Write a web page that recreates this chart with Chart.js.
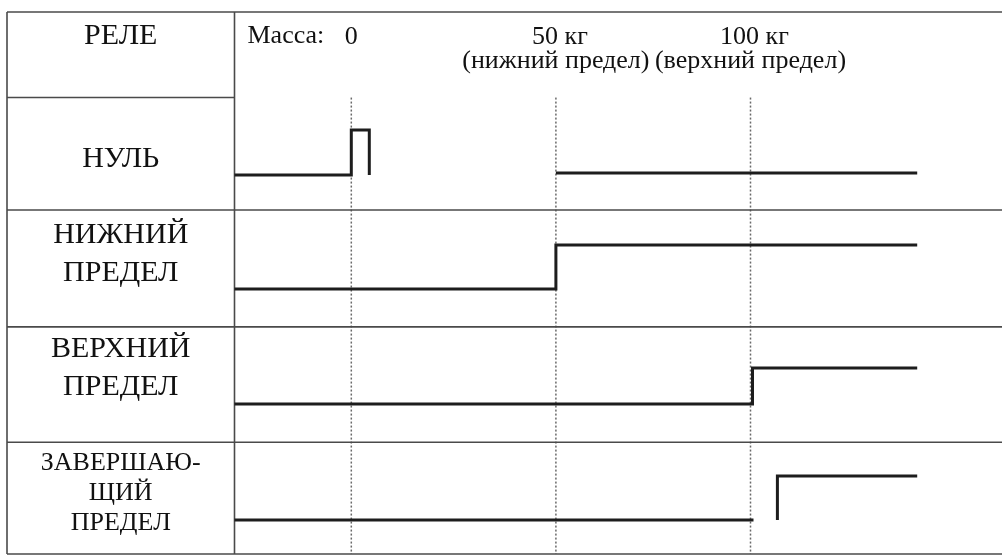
<!DOCTYPE html>
<html>
<head>
<meta charset="utf-8">
<script src="https://cdn.jsdelivr.net/npm/chart.js@4"></script>
<style>
  html, body { margin: 0; padding: 0; background: #fff; }
  canvas { display: block; }
</style>
</head>
<body>
<canvas id="relayChart" width="1002" height="556"></canvas>
<script>
// time axis in arbitrary units (0..100 across the sheet), rows in row units
const relayNames = [['НУЛЬ'], ['НИЖНИЙ', 'ПРЕДЕЛ'], ['ВЕРХНИЙ', 'ПРЕДЕЛ'], ['ЗАВЕРШАЮ-', 'ЩИЙ', 'ПРЕДЕЛ']];
const rowEdges = [-0.75, 0, 0.985, 2.01, 3.02, 4];
const tableLeft = 0.7;
const labelColumnEnd = 23.45;

const markerT = [35.13, 55.59, 75.05];
const markerMass = ['0', '50 кг', '100 кг'];
const markerNote = ['', '(нижний предел)', '(верхний предел)'];

// relay traces: times and levels (level changes at the next time)
const nulT1 = [23.45, 35.13, 36.93];
const nulY1 = [0.678, 0.284, 0.678];
const nulT2 = [55.59, 91.72];
const nulY2 = [0.661, 0.661];
const lowT = [23.45, 55.59, 91.72];
const lowY = [1.678, 1.292, 1.292];
const highT = [23.45, 75.25, 91.72];
const highY = [2.686, 2.370, 2.370];
const finT1 = [23.45, 75.35];
const finY1 = [3.702, 3.702];
const finT2 = [77.74, 77.74, 91.72];
const finY2 = [3.702, 3.317, 3.317];

function toPoints(ts, ys) {
    return ts.map((t, i) => ({ x: t, y: ys[i] }));
}

function trace(ts, ys) {
    return {
        data: toPoints(ts, ys),
        showLine: true,
        stepped: 'before',
        borderColor: '#1d1d1d',
        borderWidth: 3,
        pointRadius: 0,
        fill: false
    };
}

const tablePlugin = {
    id: 'relayTable',
    beforeDatasetsDraw(chart) {
        const ctx = chart.ctx;
        const xs = chart.scales.x, ys = chart.scales.y;
        const px = v => xs.getPixelForValue(v);
        const py = v => ys.getPixelForValue(v);
        const right = chart.width;

        ctx.save();
        ctx.fillStyle = '#fff';
        ctx.fillRect(0, 0, chart.width, chart.height);

        // dotted markers
        ctx.strokeStyle = '#6a6a6a';
        ctx.lineWidth = 1.5;
        ctx.setLineDash([2, 2]);
        markerT.forEach(t => {
            ctx.beginPath();
            ctx.moveTo(px(t), py(rowEdges[1]));
            ctx.lineTo(px(t), py(rowEdges[rowEdges.length - 1]));
            ctx.stroke();
        });
        ctx.setLineDash([]);

        // table rules
        ctx.strokeStyle = '#4a4a4a';
        ctx.lineWidth = 1.6;
        rowEdges.forEach((r, i) => {
            ctx.beginPath();
            ctx.moveTo(px(tableLeft), py(r));
            ctx.lineTo(i === 1 ? px(labelColumnEnd) : right, py(r));
            ctx.stroke();
        });
        [tableLeft, labelColumnEnd].forEach(t => {
            ctx.beginPath();
            ctx.moveTo(px(t), py(rowEdges[0]));
            ctx.lineTo(px(t), py(rowEdges[rowEdges.length - 1]));
            ctx.stroke();
        });
        ctx.restore();
    },
    afterDraw(chart) {
        const ctx = chart.ctx;
        const xs = chart.scales.x, ys = chart.scales.y;
        const px = v => xs.getPixelForValue(v);
        const py = v => ys.getPixelForValue(v);
        const colMid = (px(tableLeft) + px(labelColumnEnd)) / 2;

        ctx.save();
        ctx.fillStyle = '#111';
        ctx.textAlign = 'center';
        ctx.textBaseline = 'alphabetic';

        // header
        ctx.font = '30px "Liberation Serif", "Times New Roman", serif';
        ctx.fillText('РЕЛЕ', colMid, py(rowEdges[0]) + 32);
        ctx.font = '26px "Liberation Serif", "Times New Roman", serif';
        ctx.textAlign = 'left';
        ctx.fillText('Масса:', px(labelColumnEnd) + 13, py(rowEdges[0]) + 31);
        ctx.textAlign = 'center';
        markerT.forEach((t, i) => {
            ctx.fillText(markerMass[i], px(t) + (i === 0 ? 0 : 4), py(rowEdges[0]) + 32);
            if (markerNote[i]) ctx.fillText(markerNote[i], px(t), py(rowEdges[0]) + 56);
        });

        // relay names
        const anchor = [0.54, 0.37, 0.35, 0.45];
        relayNames.forEach((lines, r) => {
            const top = py(rowEdges[r + 1]);
            const bottom = py(rowEdges[r + 2]);
            const mid = top + anchor[r] * (bottom - top);
            const size = lines.length > 2 ? 26 : 30;
            const lh = lines.length > 2 ? 30 : 38;
            ctx.font = size + 'px "Liberation Serif", "Times New Roman", serif';
            lines.forEach((s, i) => {
                const y = mid + (i - (lines.length - 1) / 2) * lh + size * 0.3;
                ctx.fillText(s, colMid, y);
            });
        });
        ctx.restore();
    }
};

new Chart(document.getElementById('relayChart'), {
    type: 'scatter',
    data: {
        datasets: [
            trace(nulT1, nulY1),
            trace(nulT2, nulY2),
            trace(lowT, lowY),
            trace(highT, highY),
            trace(finT1, finY1),
            trace(finT2, finY2)
        ]
    },
    options: {
        responsive: false,
        animation: false,
        devicePixelRatio: 1,
        layout: { padding: 0 },
        scales: {
            x: { type: 'linear', min: 0, max: 100.2, display: false },
            y: { type: 'linear', min: -0.855, max: 4.0175, reverse: true, display: false }
        },
        plugins: {
            legend: { display: false },
            tooltip: { enabled: false }
        }
    },
    plugins: [tablePlugin]
});
</script>
</body>
</html>
